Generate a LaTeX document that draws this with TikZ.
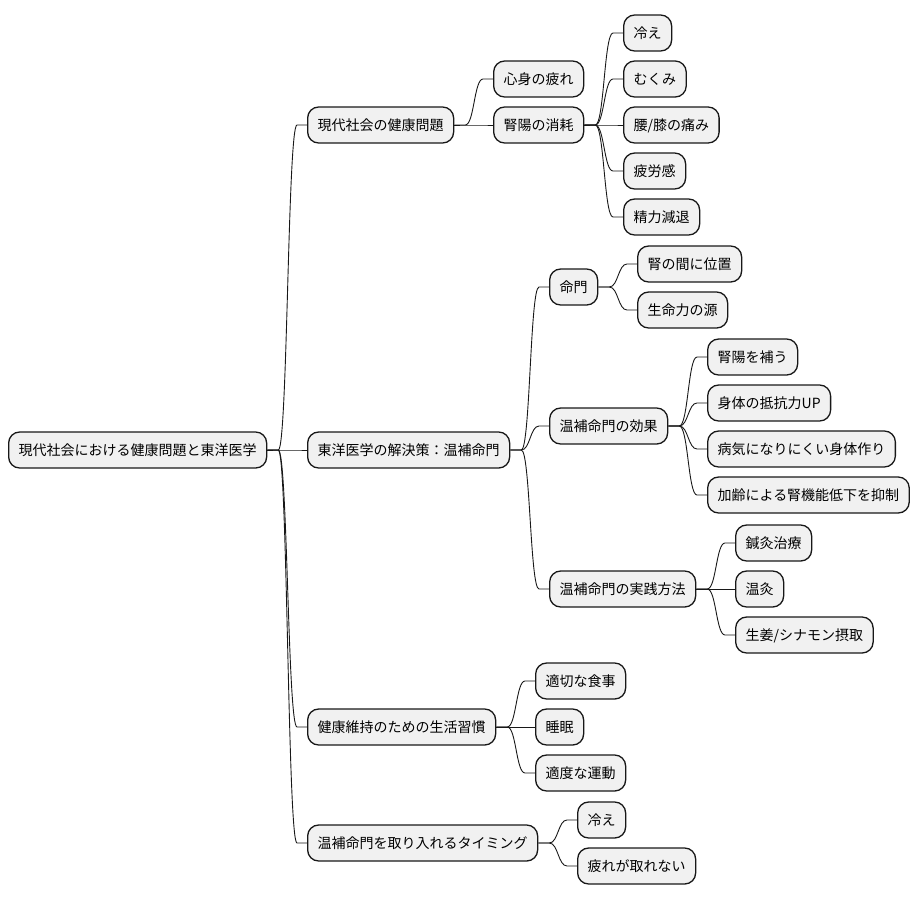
\documentclass[tikz,border=0pt]{standalone}
\usepackage{fontspec}
\setmainfont{Noto Sans CJK JP}
\usetikzlibrary{calc}
\definecolor{boxfill}{HTML}{F1F1F1}
\definecolor{boxline}{HTML}{181818}

\begin{document}
\begin{tikzpicture}[
    x=1pt, y=-1pt,
    topic/.style={draw=boxline, fill=boxfill, line width=1.3pt, rounded corners=11pt,
                  anchor=west, minimum height=36pt, inner xsep=10pt,
                  text height=12pt, text depth=2pt, font=\fontsize{14}{16}\selectfont},
    link/.style={draw=boxline, line width=0.9pt,
                 to path={let \p1=(\tikztostart.east), \p2=(\tikztotarget.west),
                          \n1={0.5*\x1+0.5*\x2+0.5pt} in
                          (\p1) -- ({\x1+11pt},\y1)
                          .. controls (\n1,\y1) and (\n1,\y2) .. ({\x2-10pt},\y2)
                          -- (\p2)}},
]
\useasboundingbox (0,0) rectangle (920,900);

% 中心
\node[topic] (root) at (8,450) {現代社会における健康問題と東洋医学};

% 第一層
\node[topic] (modern) at (307,125) {現代社会の健康問題};
\node[topic] (remedy) at (307,450) {東洋医学の解決策：温補命門};
\node[topic] (habit)  at (307,727) {健康維持のための生活習慣};
\node[topic] (timing) at (307,843) {温補命門を取り入れるタイミング};

% 現代社会の健康問題
\node[topic] (tired)   at (493,79)  {心身の疲れ};
\node[topic] (kidney)  at (493,125) {腎陽の消耗};
\node[topic] (cold)    at (623,33)  {冷え};
\node[topic] (swell)   at (623,79)  {むくみ};
\node[topic] (pain)    at (623,125) {腰/膝の痛み};
\node[topic] (fatigue) at (623,171) {疲労感};
\node[topic] (vigor)   at (623,217) {精力減退};

% 東洋医学の解決策
\node[topic] (mingmen) at (549,287) {命門};
\node[topic] (effect)  at (549,426) {温補命門の効果};
\node[topic] (method)  at (549,589) {温補命門の実践方法};

\node[topic] (place)  at (637,264) {腎の間に位置};
\node[topic] (source) at (637,310) {生命力の源};

\node[topic] (tonify) at (707,357) {腎陽を補う};
\node[topic] (resist) at (707,403) {身体の抵抗力UP};
\node[topic] (immune) at (707,449) {病気になりにくい身体作り};
\node[topic] (aging)  at (707,495) {加齢による腎機能低下を抑制};

\node[topic] (acu)    at (735,543) {鍼灸治療};
\node[topic] (moxa)   at (735,589) {温灸};
\node[topic] (ginger) at (735,635) {生姜/シナモン摂取};

% 生活習慣
\node[topic] (meal)     at (535,681) {適切な食事};
\node[topic] (sleep)    at (535,727) {睡眠};
\node[topic] (exercise) at (535,773) {適度な運動};

% タイミング
\node[topic] (chill)  at (577,820) {冷え};
\node[topic] (weary)  at (577,866) {疲れが取れない};

% 接続線
\draw[link] (root) to (modern);
\draw[link] (root) to (remedy);
\draw[link] (root) to (habit);
\draw[link] (root) to (timing);

\draw[link] (modern) to (tired);
\draw[link] (modern) to (kidney);
\draw[link] (kidney) to (cold);
\draw[link] (kidney) to (swell);
\draw[link] (kidney) to (pain);
\draw[link] (kidney) to (fatigue);
\draw[link] (kidney) to (vigor);

\draw[link] (remedy) to (mingmen);
\draw[link] (remedy) to (effect);
\draw[link] (remedy) to (method);
\draw[link] (mingmen) to (place);
\draw[link] (mingmen) to (source);
\draw[link] (effect) to (tonify);
\draw[link] (effect) to (resist);
\draw[link] (effect) to (immune);
\draw[link] (effect) to (aging);
\draw[link] (method) to (acu);
\draw[link] (method) to (moxa);
\draw[link] (method) to (ginger);

\draw[link] (habit) to (meal);
\draw[link] (habit) to (sleep);
\draw[link] (habit) to (exercise);

\draw[link] (timing) to (chill);
\draw[link] (timing) to (weary);

\end{tikzpicture}
\end{document}
